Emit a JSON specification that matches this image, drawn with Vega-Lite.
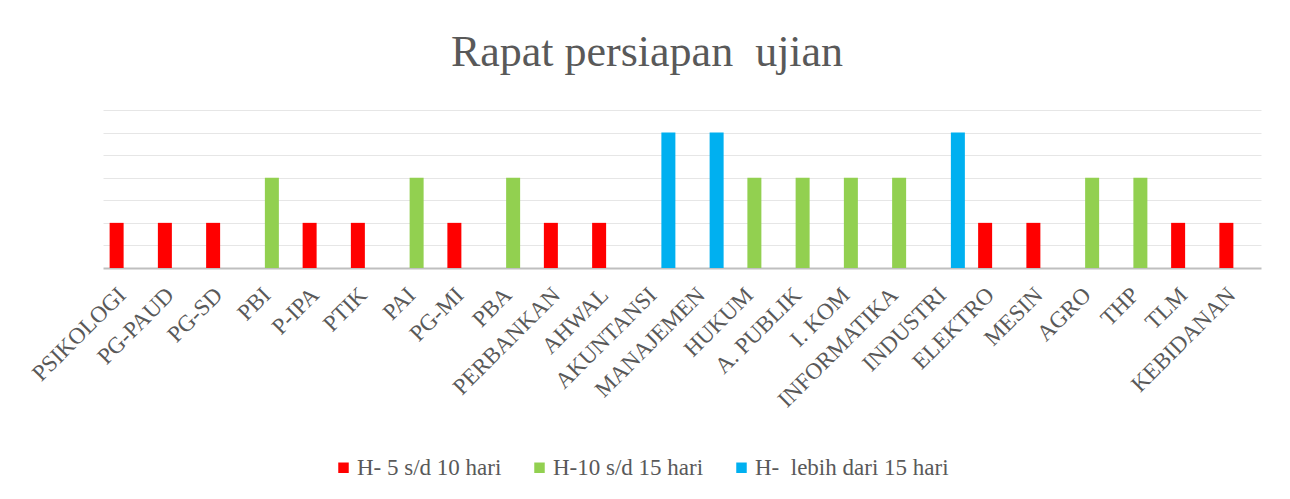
{
  "$schema": "https://vega.github.io/schema/vega-lite/v6.json",
  "autosize": "none",
  "padding": {"left": 103, "top": 110, "right": 29, "bottom": 231},
  "width": 1158,
  "height": 158,
  "background": "white",
  "title": {
    "text": "Rapat persiapan\u00a0 ujian",
    "font": "Liberation Serif",
    "fontSize": 44,
    "fontWeight": "normal",
    "color": "#595959",
    "anchor": "middle",
    "dx": -35,
    "offset": 35
  },
  "data": {
    "values": [
      {"prodi": "PSIKOLOGI", "series": "H- 5 s/d 10 hari", "value": 2},
      {"prodi": "PG-PAUD", "series": "H- 5 s/d 10 hari", "value": 2},
      {"prodi": "PG-SD", "series": "H- 5 s/d 10 hari", "value": 2},
      {"prodi": "PBI", "series": "H-10 s/d 15 hari", "value": 4},
      {"prodi": "P-IPA", "series": "H- 5 s/d 10 hari", "value": 2},
      {"prodi": "PTIK", "series": "H- 5 s/d 10 hari", "value": 2},
      {"prodi": "PAI", "series": "H-10 s/d 15 hari", "value": 4},
      {"prodi": "PG-MI", "series": "H- 5 s/d 10 hari", "value": 2},
      {"prodi": "PBA", "series": "H-10 s/d 15 hari", "value": 4},
      {"prodi": "PERBANKAN", "series": "H- 5 s/d 10 hari", "value": 2},
      {"prodi": "AHWAL", "series": "H- 5 s/d 10 hari", "value": 2},
      {"prodi": "AKUNTANSI", "series": "H-  lebih dari 15 hari", "value": 6},
      {"prodi": "MANAJEMEN", "series": "H-  lebih dari 15 hari", "value": 6},
      {"prodi": "HUKUM", "series": "H-10 s/d 15 hari", "value": 4},
      {"prodi": "A. PUBLIK", "series": "H-10 s/d 15 hari", "value": 4},
      {"prodi": "I. KOM", "series": "H-10 s/d 15 hari", "value": 4},
      {"prodi": "INFORMATIKA", "series": "H-10 s/d 15 hari", "value": 4},
      {"prodi": "INDUSTRI", "series": "H-  lebih dari 15 hari", "value": 6},
      {"prodi": "ELEKTRO", "series": "H- 5 s/d 10 hari", "value": 2},
      {"prodi": "MESIN", "series": "H- 5 s/d 10 hari", "value": 2},
      {"prodi": "AGRO", "series": "H-10 s/d 15 hari", "value": 4},
      {"prodi": "THP", "series": "H-10 s/d 15 hari", "value": 4},
      {"prodi": "TLM", "series": "H- 5 s/d 10 hari", "value": 2},
      {"prodi": "KEBIDANAN", "series": "H- 5 s/d 10 hari", "value": 2}
    ]
  },
  "mark": {"type": "bar", "width": 14},
  "encoding": {
    "x": {
      "field": "prodi",
      "type": "nominal",
      "sort": null,
      "scale": {"paddingInner": 0.347, "paddingOuter": 0.1735},
      "axis": {
        "title": null,
        "labelAngle": -45,
        "labelAlign": "right",
        "labelBaseline": "alphabetic",
        "labelFont": "Liberation Serif",
        "labelFontSize": 23,
        "labelColor": "#595959",
        "labelPadding": 28,
        "labelOffset": 0,
        "ticks": false,
        "domainColor": "#bfbfbf",
        "domainWidth": 2,
        "labelOverlap": false,
        "labelBound": false,
        "labelLimit": 400
      }
    },
    "xOffset": {
      "field": "series",
      "type": "nominal",
      "scale": {"domain": ["H- 5 s/d 10 hari", "H-10 s/d 15 hari", "H-  lebih dari 15 hari"], "paddingInner": 0, "paddingOuter": 0}
    },
    "y": {
      "field": "value",
      "type": "quantitative",
      "scale": {"domain": [0, 7], "nice": false},
      "axis": {
        "title": null,
        "labels": false,
        "ticks": false,
        "domain": false,
        "values": [1, 2, 3, 4, 5, 6, 7],
        "gridColor": "#e6e6e6",
        "gridWidth": 1
      }
    },
    "color": {
      "field": "series",
      "type": "nominal",
      "scale": {
        "domain": ["H- 5 s/d 10 hari", "H-10 s/d 15 hari", "H-  lebih dari 15 hari"],
        "range": ["#FF0000", "#92D050", "#00B0F0"]
      },
      "legend": {
        "title": null,
        "orient": "none",
        "legendX": 229,
        "legendY": 346,
        "direction": "horizontal",
        "symbolType": "square",
        "symbolSize": 110,
        "symbolStrokeWidth": 0,
        "labelFont": "Liberation Serif",
        "labelFontSize": 23,
        "labelColor": "#595959",
        "labelLimit": 400,
        "labelExpr": "replace(datum.label, '  ', '\u00a0 ')",
        "columnPadding": 26,
        "symbolOffset": 0,
        "labelOffset": 2
      }
    }
  },
  "config": {
    "view": {"stroke": null}
  }
}
